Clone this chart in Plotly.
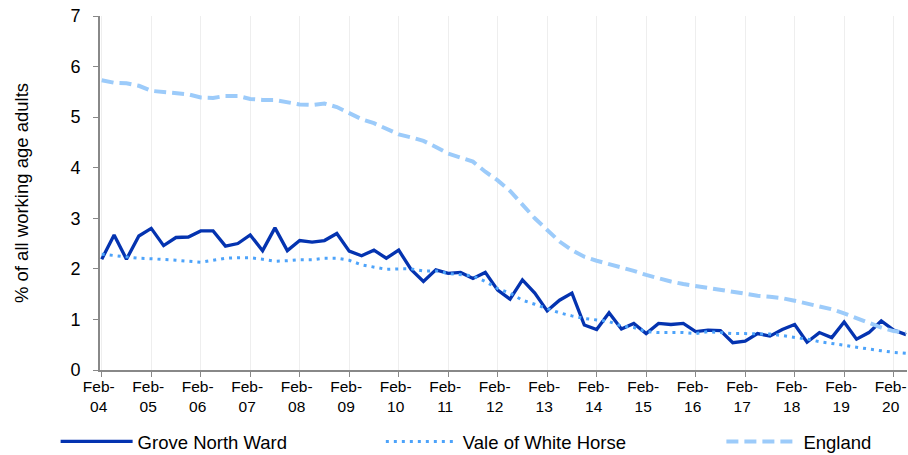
import plotly.graph_objects as go

quarters = [
    "Feb-04", "May-04", "Aug-04", "Nov-04", "Feb-05", "May-05", "Aug-05", "Nov-05",
    "Feb-06", "May-06", "Aug-06", "Nov-06", "Feb-07", "May-07", "Aug-07", "Nov-07",
    "Feb-08", "May-08", "Aug-08", "Nov-08", "Feb-09", "May-09", "Aug-09", "Nov-09",
    "Feb-10", "May-10", "Aug-10", "Nov-10", "Feb-11", "May-11", "Aug-11", "Nov-11",
    "Feb-12", "May-12", "Aug-12", "Nov-12", "Feb-13", "May-13", "Aug-13", "Nov-13",
    "Feb-14", "May-14", "Aug-14", "Nov-14", "Feb-15", "May-15", "Aug-15", "Nov-15",
    "Feb-16", "May-16", "Aug-16", "Nov-16", "Feb-17", "May-17", "Aug-17", "Nov-17",
    "Feb-18", "May-18", "Aug-18", "Nov-18", "Feb-19", "May-19", "Aug-19", "Nov-19",
    "Feb-20", "May-20",
]

grove = [
    2.19, 2.67, 2.19, 2.65, 2.80, 2.46, 2.62, 2.63, 2.75, 2.75, 2.45, 2.50,
    2.67, 2.36, 2.81, 2.36, 2.56, 2.53, 2.56, 2.70, 2.35, 2.26, 2.37, 2.21,
    2.37, 1.99, 1.75, 1.98, 1.91, 1.93, 1.81, 1.93, 1.58, 1.40, 1.78, 1.52,
    1.17, 1.38, 1.52, 0.89, 0.80, 1.13, 0.81, 0.92, 0.72, 0.92, 0.90, 0.92,
    0.76, 0.79, 0.78, 0.54, 0.57, 0.72, 0.67, 0.80, 0.90, 0.55, 0.74, 0.64,
    0.95, 0.61, 0.74, 0.97, 0.79, 0.70,
]

vale = [
    2.29, 2.26, 2.23, 2.21, 2.20, 2.19, 2.17, 2.15, 2.13, 2.17, 2.21, 2.22,
    2.22, 2.19, 2.15, 2.16, 2.18, 2.18, 2.21, 2.21, 2.17, 2.08, 2.04, 1.99,
    2.00, 2.00, 1.96, 1.96, 1.91, 1.89, 1.86, 1.75, 1.61, 1.52, 1.38, 1.30,
    1.21, 1.13, 1.07, 1.02, 0.99, 0.96, 0.87, 0.84, 0.76, 0.74, 0.74, 0.74,
    0.72, 0.76, 0.74, 0.72, 0.72, 0.72, 0.71, 0.68, 0.65, 0.61, 0.56, 0.53,
    0.49, 0.45, 0.41, 0.38, 0.35, 0.33,
]

england = [
    5.73, 5.68, 5.67, 5.62, 5.52, 5.49, 5.48, 5.45, 5.39, 5.38, 5.42, 5.42,
    5.36, 5.34, 5.34, 5.29, 5.25, 5.24, 5.27, 5.20, 5.07, 4.96, 4.88, 4.77,
    4.66, 4.60, 4.53, 4.41, 4.28, 4.20, 4.12, 3.92, 3.75, 3.54, 3.26, 3.00,
    2.77, 2.54, 2.37, 2.24, 2.16, 2.10, 2.02, 1.96, 1.88, 1.81, 1.75, 1.70,
    1.66, 1.63, 1.58, 1.54, 1.50, 1.47, 1.45, 1.42, 1.37, 1.32, 1.26, 1.20,
    1.12, 1.02, 0.92, 0.84, 0.77, 0.74,
]

tick_labels = ["Feb-<br>04", "Feb-<br>05", "Feb-<br>06", "Feb-<br>07", "Feb-<br>08",
               "Feb-<br>09", "Feb-<br>10", "Feb-<br>11", "Feb-<br>12", "Feb-<br>13",
               "Feb-<br>14", "Feb-<br>15", "Feb-<br>16", "Feb-<br>17", "Feb-<br>18",
               "Feb-<br>19", "Feb-<br>20"]
tick_cats = [q for q in quarters if q.startswith("Feb")]

FONT = "Liberation Sans, Arial, sans-serif"

fig = go.Figure()
fig.add_trace(go.Scatter(x=quarters, y=grove, mode="lines", name="Grove North Ward",
                         line=dict(color="#0433B0", width=3.3), legend="legend"))
fig.add_trace(go.Scatter(x=quarters, y=vale, mode="lines", name="Vale of White Horse",
                         line=dict(color="#4DA3FA", width=3, dash="3px,5px"), legend="legend2"))
fig.add_trace(go.Scatter(x=quarters, y=england, mode="lines", name="England",
                         line=dict(color="#9CCBFA", width=4, dash="12px,6px"), legend="legend3"))

leg_common = dict(orientation="h", xanchor="left", y=-0.203, yanchor="middle",
                  font=dict(size=18.5), itemwidth=72, bgcolor="rgba(0,0,0,0)")

fig.update_layout(
    width=908, height=455,
    margin=dict(l=100, r=1, t=16, b=85, autoexpand=False),
    paper_bgcolor="white", plot_bgcolor="white",
    font=dict(family=FONT, size=16, color="#000000"),
    showlegend=True,
    legend=dict(x=-0.055, **leg_common),
    legend2=dict(x=0.348, **leg_common),
    legend3=dict(x=0.770, **leg_common),
    xaxis=dict(
        type="category", categoryorder="array", categoryarray=quarters,
        range=[-0.14, 65.08],
        tickmode="array", tickvals=tick_cats, ticktext=tick_labels,
        tickangle=0,
        showgrid=True, gridcolor="#EEEEEE", gridwidth=1,
        showline=True, linecolor="#888888", linewidth=2,
        ticks="outside", ticklen=5, tickcolor="#888888",
        tickfont=dict(size=15.5), zeroline=False, ticklabelstandoff=-4,
        ticklabelshift=-3, ticklabeloverflow="allow",
    ),
    yaxis=dict(
        range=[0, 7], dtick=1, tick0=0,
        showgrid=False, zeroline=False,
        showline=True, linecolor="#888888", linewidth=2,
        ticks="outside", ticklen=5, tickcolor="#888888",
        tickfont=dict(size=18), ticklabelstandoff=9,
        ticklabeloverflow="allow",
        title=dict(text="% of all working age adults", font=dict(size=18.5), standoff=37),
    ),
)

fig.write_html("out.html",
               config={"displayModeBar": False},
               post_script="document.body.style.margin='0';document.body.style.overflow='hidden';")
